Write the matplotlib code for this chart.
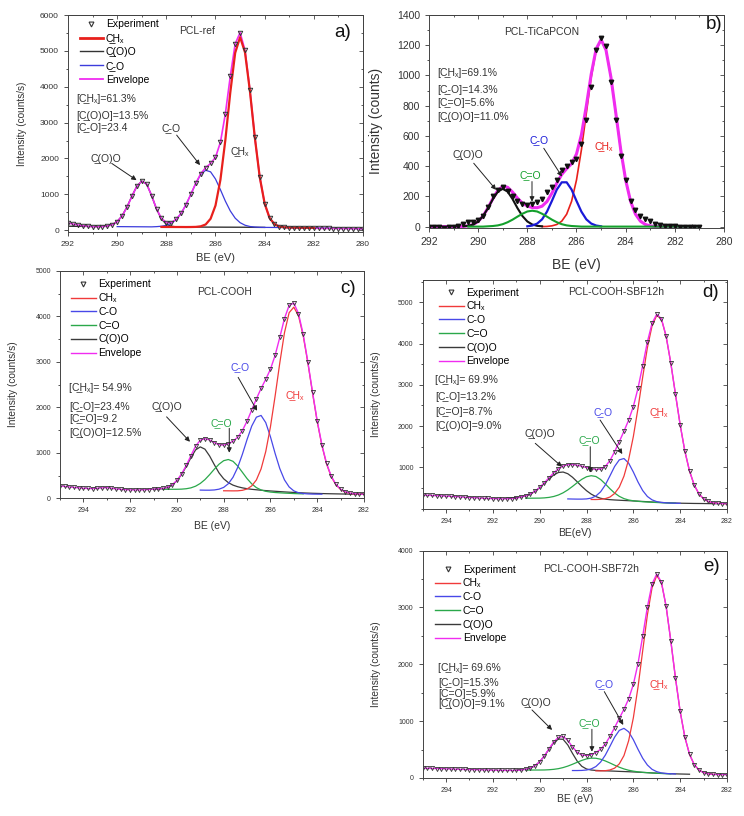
import numpy as np
import matplotlib
matplotlib.use('Agg')
import matplotlib.pyplot as plt
from matplotlib.lines import Line2D
from matplotlib.ticker import MultipleLocator

plt.rcParams['font.family'] = ['Liberation Sans', 'DejaVu Sans']
plt.rcParams['axes.linewidth'] = 0.7

UL = '\u0332'   # combining low line, underlines the C in front of it
SX = '\u2093'   # subscript x

RED = '#e8201c'
BLUE = '#3c3cdc'
GREEN = '#1f9e3a'
BLACK = '#333333'
MAGENTA = '#f02cf0'
TXT = '#333333'


def grid(start, stop):
    n = int(round((start - stop) / 0.2)) + 1
    return np.round(start - 0.2 * np.arange(n), 1)


# ---------------- a) PCL-ref : 292 -> 280 eV, step 0.2 ----------------
be_a = grid(292.0, 280.0)
exp_a = [200, 172, 146, 124, 108, 98, 94, 99, 115, 152,
         235, 395, 642, 945, 1222, 1367, 1287, 967, 597, 330,
         213, 213, 300, 468, 710, 1006, 1313, 1574, 1745, 1860,
         2031, 2450, 3240, 4286, 5196, 5510, 5015, 3903, 2590, 1480,
         742, 342, 166, 101, 80, 74, 70, 66, 60, 58,
         55, 52, 50, 50, 47, 45, 44, 42, 42, 40, 40]
bg_a = [110, 109, 108, 107, 106, 105, 104, 103, 102, 101,
        100, 99, 98, 97, 96, 95, 94, 93, 92, 91,
        90, 90, 89, 89, 88, 88, 87, 87, 86, 86,
        85, 85, 84, 84, 83, 83, 82, 81, 80, 79,
        78, 77, 76, 75, 74, 73, 72, 70, 68, 66,
        64, 62, 60, 58, 56, 54, 52, 50, 48, 46, 44]
coo_a = [0] * 7 + [6, 19, 56, 141, 302, 550, 854, 1129, 1274, 1193,
                   873, 498, 220, 77, 20, 4] + [0] * 18          # from 292.0
co_a = [0] * 8 + [7, 19, 46, 103, 208, 378, 622, 917, 1221, 1466, 1585,
                  1541, 1342, 1045, 728, 455, 253, 127, 57, 22, 8, 2] + [0] * 21   # from 290.0
ch_a = [0] * 6 + [1, 5, 21, 74, 233, 604, 1320, 2427, 3747, 4860, 5300,
                  4876, 3800, 2502, 1399, 663, 265, 90, 26, 6, 1] + [0] * 5       # from 288.2

# ---------------- b) PCL-TiCaPCON : 292 -> 281 eV ----------------
be_b = grid(292.0, 281.0)
exp_b = [-3, -5, -4, -6, -3, -5, 2, 15, 28, 33,
         45, 72, 128, 200, 245, 262, 238, 205, 170, 152,
         140, 148, 160, 182, 228, 262, 310, 372, 398, 428,
         445, 548, 705, 925, 1170, 1245, 1195, 955, 705, 470,
         305, 172, 110, 72, 52, 38, 18, 10, 4, 6,
         1, -2, -4, -2, -5, -3]
bg_b = [0] * 56
coo_b = [2, 5, 14, 34, 70, 122, 182, 231, 250, 231, 182, 122, 70, 34, 14, 5, 2]   # from 290.6
co_b = [2, 7, 20, 48, 99, 170, 245, 293, 293, 245, 170, 99, 48, 20, 7, 2]          # from 288.0
c_o_b = [0] * 4 + [2, 4, 8, 16, 29, 46, 66, 85, 100, 105, 100, 85, 66, 46, 29, 16,
                   8, 4, 2] + [0] * 25                                                 # from 290.4
ch_b = [0, 1, 5, 14, 36, 82, 167, 308, 508, 750, 989, 1168, 1235, 1168, 989, 750,
        508, 308, 167, 82, 36, 14, 5, 1]                                               # from 287.4

# ---------------- c) PCL-COOH : 295 -> 282 eV ----------------
be_c = grid(295.0, 282.0)
exp_c = [272, 262, 250, 240, 230, 222, 216, 214, 220, 230, 234, 222, 206, 197, 190, 186,
         184, 185, 188, 194, 202, 208,
         218, 242, 296, 392, 535, 722, 936, 1148, 1276, 1312, 1282, 1225, 1178, 1170,
         1200, 1255, 1342, 1488, 1695, 1940, 2185, 2415, 2615, 2835, 3140, 3535, 3950,
         4240, 4290, 4060, 3605, 3000, 2335, 1705, 1178, 768, 487, 308, 202, 145, 114,
         100, 93, 89]
bg_c = [200] * 22 + [199, 198, 197, 195, 193, 190, 187, 184, 181, 178,
                     175, 172, 169, 166, 163, 160, 157, 154, 150, 146,
                     142, 138, 134, 130, 125, 120, 115, 110, 105, 101,
                     98, 95, 93, 92, 91, 90, 90, 89, 89, 89, 88, 88, 88, 88]
coo_c = [0, 0, 15, 40, 95, 190, 330, 510, 705, 880, 949, 902, 755, 568, 391, 264, 182,
         130, 98, 76, 62, 52, 46, 40, 36, 32, 30, 28, 26, 25, 24, 23, 21, 20, 18, 16,
         14, 12, 10, 9, 7, 5, 4, 3, 1, 0]                                             # from 291.0
c_o_c = [0, 0, 2, 4, 9, 21, 43, 83, 146, 234, 346, 468, 580, 661, 690, 653, 553, 419,
         284, 172, 93, 46, 20, 8, 3, 1, 0, 0, 0, 0, 0]                                # from 290.6
co_c = [0, 1, 4, 12, 32, 74, 158, 303, 522, 813, 1141, 1441, 1641, 1683, 1529, 1224,
        862, 534, 291, 140, 59, 22, 7, 2, 0, 0, 0]                                    # from 289.0
ch_c = [0, 2, 4, 8, 22, 55, 127, 262, 508, 894, 1439, 2120, 2854, 3522, 3969, 4095,
        3911, 3477, 2882, 2222, 1595, 1070, 664, 385, 209, 105, 49, 21, 8, 4, 1]      # from 288.0

# ---------------- d) PCL-COOH-SBF12h : 295 -> 282 eV ----------------
be_d = grid(295.0, 282.0)
exp_d = [330, 326, 320, 314, 310, 304, 298, 292, 285, 278, 270, 265, 258, 252, 248, 244,
         240, 238, 240, 244, 252,
         284, 310, 355, 423, 515, 628, 751, 869, 967, 1033, 1065, 1067, 1052, 1027, 997,
         968, 951, 957, 1022, 1164, 1380, 1624, 1877, 2146, 2474, 2919, 3466, 4039, 4492,
         4708, 4602, 4183, 3531, 2775, 2035, 1398, 914, 576, 362, 241, 176, 144, 129,
         123, 119]
bg_d = [255] * 20 + [255, 255, 254, 253, 252, 250, 248, 246, 244, 242,
                     240, 237, 234, 231, 228, 225, 221, 217, 213, 209,
                     205, 200, 195, 190, 185, 180, 174, 168, 162, 156,
                     150, 145, 140, 136, 133, 130, 128, 126, 125, 124,
                     123, 122, 121, 120, 119, 118]
coo_d = [2, 6, 14, 29, 56, 101, 168, 259, 366, 477, 573, 635, 648, 610, 528, 422, 311,
         211, 132, 76, 40, 22, 14, 11, 10, 9, 9, 8, 8, 7, 7, 6, 6, 5, 5, 4, 4, 3, 3, 3,
         2, 2, 2, 1, 1, 0]                                                            # from 291.4
c_o_d = [0, 1, 3, 6, 14, 28, 52, 90, 145, 218, 305, 398, 484, 549, 578, 563, 495, 392,
         279, 179, 104, 54, 26, 11, 4, 1, 0, 0, 0, 0, 0, 0, 0]                        # from 290.6
co_d = [0, 0, 1, 4, 12, 35, 90, 195, 364, 589, 822, 988, 1025, 918, 709, 472, 271, 134,
        58, 21, 7, 2, 0, 0, 0]                                                        # from 288.8
ch_d = [2, 5, 14, 35, 77, 168, 327, 599, 1008, 1566, 2261, 3019, 3736, 4272, 4531,
        4445, 4036, 3391, 2638, 1902, 1267, 785, 449, 236, 116, 53, 22, 9, 4, 1]     # from 287.8

# ---------------- e) PCL-COOH-SBF72h : 295 -> 282 eV ----------------
be_e = grid(295.0, 282.0)
exp_e = [172, 170, 168, 166, 163, 160, 158, 155, 152, 150, 148, 146, 144, 142, 140, 138,
         136, 134, 133, 133, 134,
         140, 153, 173, 216, 287, 390, 515, 635, 715, 730, 660, 548, 452, 402, 395, 412,
         446, 505, 595, 730, 886, 1050, 1208, 1392, 1645, 2013, 2495, 3007, 3414, 3588,
         3447, 3023, 2416, 1759, 1172, 721, 417, 236, 141, 94, 73, 64, 60, 59, 58]
bg_e = [140] * 20 + [140, 140, 140, 139, 139, 138, 137, 136, 135, 134,
                     133, 132, 131, 130, 129, 128, 126, 124, 122, 120,
                     118, 115, 112, 109, 106, 103, 99, 95, 91, 87,
                     83, 79, 76, 73, 71, 69, 67, 66, 65, 64,
                     63, 62, 61, 60, 59, 58]
coo_e = [1, 5, 13, 34, 76, 147, 249, 370, 483, 551, 547, 449, 302, 167, 76, 30, 14, 9,
         7, 6, 5, 5, 4, 4, 4, 3, 3, 3, 3, 2, 2, 2, 2, 1, 1, 1, 1, 0]                  # from 291.0
c_o_e = [0, 0, 1, 2, 4, 9, 17, 30, 50, 77, 110, 146, 180, 208, 223, 223, 208, 180, 146,
         110, 77, 50, 30, 17, 9, 4, 2, 1, 0, 0, 0, 0]                                 # from 290.6
co_e = [0, 1, 4, 12, 33, 77, 157, 280, 438, 603, 725, 764, 706, 571, 405, 252, 137, 65,
        28, 10, 3, 1, 0]                                                              # from 288.6
ch_e = [1, 3, 8, 23, 58, 136, 285, 550, 954, 1500, 2144, 2777, 3261, 3477, 3358, 2944,
        2342, 1688, 1103, 654, 351, 171, 77, 31, 11, 3, 1, 0]                         # from 287.6


def part(be, bg, start, heights):
    i = int(round((be[0] - start) / 0.2))
    h = np.asarray(heights, dtype=float)
    return be[i:i + len(h)], np.asarray(bg, dtype=float)[i:i + len(h)] + h


def style(ax, xlim, ylim, yticks, fs):
    ax.set_xlim(xlim)
    ax.set_ylim(ylim)
    ax.xaxis.set_major_locator(MultipleLocator(2))
    ax.xaxis.set_minor_locator(MultipleLocator(1))
    ax.set_yticks(yticks)
    ax.yaxis.set_minor_locator(MultipleLocator((yticks[1] - yticks[0]) / 2))
    ax.tick_params(which='both', direction='out', labelsize=fs, colors=TXT, width=0.6)
    ax.tick_params(which='major', length=3)
    ax.tick_params(which='minor', length=1.6)
    for s in ax.spines.values():
        s.set_color('#444444')
    top = ax.secondary_xaxis('top')
    top.xaxis.set_major_locator(MultipleLocator(2))
    top.xaxis.set_minor_locator(MultipleLocator(1))
    top.tick_params(which='both', direction='in', labeltop=False, width=0.6, colors='#444444')
    top.tick_params(which='major', length=3)
    top.tick_params(which='minor', length=1.6)
    right = ax.secondary_yaxis('right')
    right.set_yticks(yticks)
    right.yaxis.set_minor_locator(MultipleLocator((yticks[1] - yticks[0]) / 2))
    right.tick_params(which='both', direction='in', labelright=False, width=0.6, colors='#444444')
    right.tick_params(which='major', length=3)
    right.tick_params(which='minor', length=1.6)


def note(ax, text, pos, color, tail=None, tip=None, fs=7.5):
    ax.text(pos[0], pos[1], text, color=color, fontsize=fs, ha='center', va='center')
    if tip is not None:
        ax.annotate('', xy=tip, xytext=tail,
                    arrowprops=dict(arrowstyle='-|>', color='#222222', lw=0.7,
                                    mutation_scale=7, shrinkA=0, shrinkB=0))


def brackets(ax, x, ys, lines, fs=7.5):
    for y, s in zip(ys, lines):
        ax.text(x, y, s, color=TXT, fontsize=fs, ha='left', va='center')


def u(s):
    # underline the first C of a label
    return s.replace('C', 'C' + UL, 1)


fig = plt.figure(figsize=(7.44, 8.16), dpi=100)

# ================= a =================
ax = fig.add_axes([0.0914, 0.7157, 0.3965, 0.2659])
x, y = part(be_a, bg_a, 292.0, coo_a)
ax.plot(x, y, color=BLACK, lw=1.0)
x, y = part(be_a, bg_a, 290.0, co_a)
ax.plot(x, y, color=BLUE, lw=0.9)
ax.plot(be_a, exp_a, color=MAGENTA, lw=1.2)
x, y = part(be_a, bg_a, 288.2, ch_a)
ax.plot(x, y, color=RED, lw=1.6)
ax.plot(be_a, exp_a, ls='none', marker='v', ms=3.2, mfc='none', mec='#333333', mew=0.7)
style(ax, (292, 280), (-50, 6000), list(range(0, 6001, 1000)), 6)
ax.set_xlabel('BE (eV)', fontsize=8, color=TXT)
ax.set_ylabel('Intensity (counts/s)', fontsize=7.2, color=TXT)
ax.xaxis.set_label_coords(0.5, -0.097)
ax.yaxis.set_label_coords(-0.14, 0.5)
hand = [Line2D([], [], ls='none', marker='v', ms=3.5, mfc='none', mec='#333333', mew=0.8),
        Line2D([], [], color=RED, lw=2.0), Line2D([], [], color=BLACK, lw=1.0),
        Line2D([], [], color=BLUE, lw=1.0), Line2D([], [], color=MAGENTA, lw=1.3)]
labs = ['Experiment', u('CH' + SX), u('C(O)O'), u('C-O'), 'Envelope']
ax.legend(hand, labs, loc='upper left', bbox_to_anchor=(0.04, 0.98), frameon=False,
          fontsize=7.5, handlelength=2.2, handletextpad=0.3, labelspacing=0.37,
          borderpad=0, borderaxespad=0)
ax.text(286.75, 5562, 'PCL-ref', fontsize=7.5, color=TXT, ha='center', va='center')
ax.text(280.81, 5517, 'a)', fontsize=13.5, color='#111111', ha='center', va='center')
brackets(ax, 291.65, [3648, 3190, 2838],
         ['[' + u('CH' + SX) + ']=61.3%', '[' + u('C(O)O') + ']=13.5%', '[' + u('C-O') + ']=23.4'])
note(ax, u('C(O)O'), (290.45, 1973), TXT, (290.22, 1862), (289.21, 1395))
note(ax, u('C-O'), (287.81, 2838), TXT, (287.58, 2651), (286.63, 1814))
note(ax, u('CH' + SX), (285.0, 2205), TXT)

# ================= b =================
ax = fig.add_axes([0.5766, 0.7210, 0.3965, 0.2607])
env_b = np.zeros(len(be_b))
for start, h in [(290.6, coo_b), (288.0, co_b), (290.4, c_o_b), (287.4, ch_b)]:
    i = int(round((be_b[0] - start) / 0.2))
    env_b[i:i + len(h)] += h
x, y = part(be_b, bg_b, 287.4, ch_b)
ax.plot(x, y, color=RED, lw=1.2)
ax.plot(be_b, env_b, color=MAGENTA, lw=2.2)
x, y = part(be_b, bg_b, 290.6, coo_b)
ax.plot(x, y, color='#111111', lw=1.5)
x, y = part(be_b, bg_b, 288.0, co_b)
ax.plot(x, y, color='#1a1ad8', lw=1.6)
x, y = part(be_b, bg_b, 290.4, c_o_b)
ax.plot(x, y, color='#14a02c', lw=1.5)
ax.plot(be_b, exp_b, ls='none', marker='v', ms=3.2, mfc='#111111', mec='#111111')
style(ax, (292, 280), (-7, 1400), list(range(0, 1401, 200)), 7.5)
ax.set_xlabel('BE (eV)', fontsize=10, color=TXT)
ax.set_ylabel('Intensity (counts)', fontsize=10, color=TXT)
ax.xaxis.set_label_coords(0.5, -0.142)
ax.yaxis.set_label_coords(-0.156, 0.5)
ax.text(287.4, 1290, 'PCL-TiCaPCON', fontsize=7.5, color=TXT, ha='center', va='center')
ax.text(280.42, 1334, 'b)', fontsize=13.5, color='#111111', ha='center', va='center')
brackets(ax, 291.67, [1014, 904, 816, 724],
         ['[' + u('CH' + SX) + ']=69.1%', '[' + u('C-O') + ']=14.3%',
          '[' + u('C=O') + ']=5.6%', '[' + u('C(O)O') + ']=11.0%'])
note(ax, u('C(O)O'), (290.41, 474), TXT, (290.18, 419), (289.27, 243))
note(ax, u('C=O'), (287.89, 342), '#14a02c', (287.81, 298), (287.81, 165))
note(ax, u('C-O'), (287.52, 573), '#1a1ad8', (287.33, 518), (286.59, 331))
note(ax, u('CH' + SX), (284.88, 529), RED)


# ================= c, d, e =================
def panel(rect, be, exp, bg, comps, ylim, yticks, xlabel, title, letter, leg_anchor):
    ax = fig.add_axes(rect)
    for start, h, col in comps:
        x, y = part(be, bg, start, h)
        ax.plot(x, y, color=col, lw=0.9)
    ax.plot(be, exp, color=MAGENTA, lw=1.0)
    ax.plot(be, exp, ls='none', marker='v', ms=3, mfc='none', mec='#333333', mew=0.6)
    style(ax, (295, 282), ylim, yticks, 5)
    ax.set_xlabel(xlabel, fontsize=7.5, color=TXT)
    ax.set_ylabel('Intensity (counts/s)', fontsize=7.3, color=TXT)
    ax.yaxis.set_label_coords(-0.137, 0.5)
    hand = [Line2D([], [], ls='none', marker='v', ms=3.5, mfc='none', mec='#333333', mew=0.8),
            Line2D([], [], color='#f03a3a', lw=1.0), Line2D([], [], color='#4848e8', lw=1.0),
            Line2D([], [], color='#2aa84a', lw=1.0), Line2D([], [], color='#3a3a3a', lw=1.0),
            Line2D([], [], color=MAGENTA, lw=1.0)]
    labs = ['Experiment', 'CH' + SX, 'C-O', 'C=O', 'C(O)O', 'Envelope']
    ax.legend(hand, labs, loc='upper left', bbox_to_anchor=leg_anchor, frameon=False,
              fontsize=7.5, handlelength=2.4, handletextpad=0.25, labelspacing=0.36,
              borderpad=0, borderaxespad=0)
    ax.text(title[1], title[2], title[0], fontsize=7.5, color=TXT, ha='center', va='center')
    ax.text(letter[1], letter[2], letter[0], fontsize=13.5, color='#111111', ha='center', va='center')
    return ax


ax = panel([0.0806, 0.3893, 0.4086, 0.2789], be_c, exp_c, bg_c,
           [(291.0, coo_c, '#3a3a3a'), (290.6, c_o_c, '#2aa84a'), (289.0, co_c, '#4848e8'),
            (288.0, ch_c, '#f03a3a')],
           (0, 5000), list(range(0, 5001, 1000)), 'BE (eV)',
           ('PCL-COOH', 287.95, 4539), ('c)', 282.68, 4613), (0.036, 0.962))
ax.xaxis.set_label_coords(0.5, -0.1)
brackets(ax, 294.6, [2416, 2012, 1735, 1428],
         ['[' + u('CH' + SX) + ']= 54.9%', '[' + u('C-O') + ']=23.4%',
          '[' + u('C=O') + ']=9.2', '[' + u('C(O)O') + ']=12.5%'])
note(ax, u('C(O)O'), (290.44, 2012), TXT, (290.44, 1790), (289.44, 1243))
note(ax, u('C=O'), (288.09, 1661), '#2aa84a', (287.76, 1538), (287.76, 1002))
note(ax, u('C-O'), (287.31, 2878), '#4848e8', (287.38, 2658), (286.57, 1924))
note(ax, u('CH' + SX), (284.96, 2269), '#f03a3a')

ax = panel([0.5681, 0.3766, 0.4090, 0.2803], be_d, exp_d, bg_d,
           [(291.4, coo_d, '#3a3a3a'), (290.6, c_o_d, '#2aa84a'), (288.8, co_d, '#4848e8'),
            (287.8, ch_d, '#f03a3a')],
           (0, 5540), list(range(1000, 5001, 1000)), 'BE(eV)',
           ('PCL-COOH-SBF12h', 286.74, 5254), ('d)', 282.71, 5230), (0.053, 0.967))
ax.xaxis.set_label_coords(0.5, -0.084)
brackets(ax, 294.46, [3116, 2712, 2349, 2002],
         ['[' + u('CH' + SX) + ']= 69.9%', '[' + u('C-O') + ']=13.2%',
          '[' + u('C=O') + ']=8.7%', '[' + u('C(O)O') + ']=9.0%'])
note(ax, u('C(O)O'), (290.0, 1801), TXT, (290.19, 1583), (289.05, 1017))
note(ax, u('C=O'), (287.88, 1663), '#2aa84a', (287.84, 1501), (287.84, 872))
note(ax, u('C-O'), (287.28, 2349), '#4848e8', (287.42, 2148), (286.47, 1324))
note(ax, u('CH' + SX), (284.93, 2349), '#f03a3a')

ax = panel([0.5681, 0.0466, 0.4090, 0.2786], be_e, exp_e, bg_e,
           [(291.0, coo_e, '#3a3a3a'), (290.6, c_o_e, '#2aa84a'), (288.6, co_e, '#4848e8'),
            (287.6, ch_e, '#f03a3a')],
           (0, 4000), list(range(0, 4001, 1000)), 'BE (eV)',
           ('PCL-COOH-SBF72h', 287.8, 3674), ('e)', 282.64, 3720), (0.041, 0.939))
ax.xaxis.set_label_coords(0.5, -0.07)
brackets(ax, 294.35, [1942, 1667, 1479, 1303],
         ['[' + u('CH' + SX) + ']= 69.6%', '[' + u('C-O') + ']=15.3%',
          '[' + u('C=O') + ']=5.9%', '[' + u('C(O)O') + ']=9.1%'])
note(ax, u('C(O)O'), (290.16, 1315), TXT, (290.33, 1197), (289.47, 845))
note(ax, u('C=O'), (287.88, 963), '#2aa84a', (287.77, 857), (287.77, 463))
note(ax, u('C-O'), (287.24, 1655), '#4848e8', (287.24, 1519), (286.43, 933))
note(ax, u('CH' + SX), (284.9, 1655), '#f03a3a')

fig.savefig('out.png', dpi=100)
